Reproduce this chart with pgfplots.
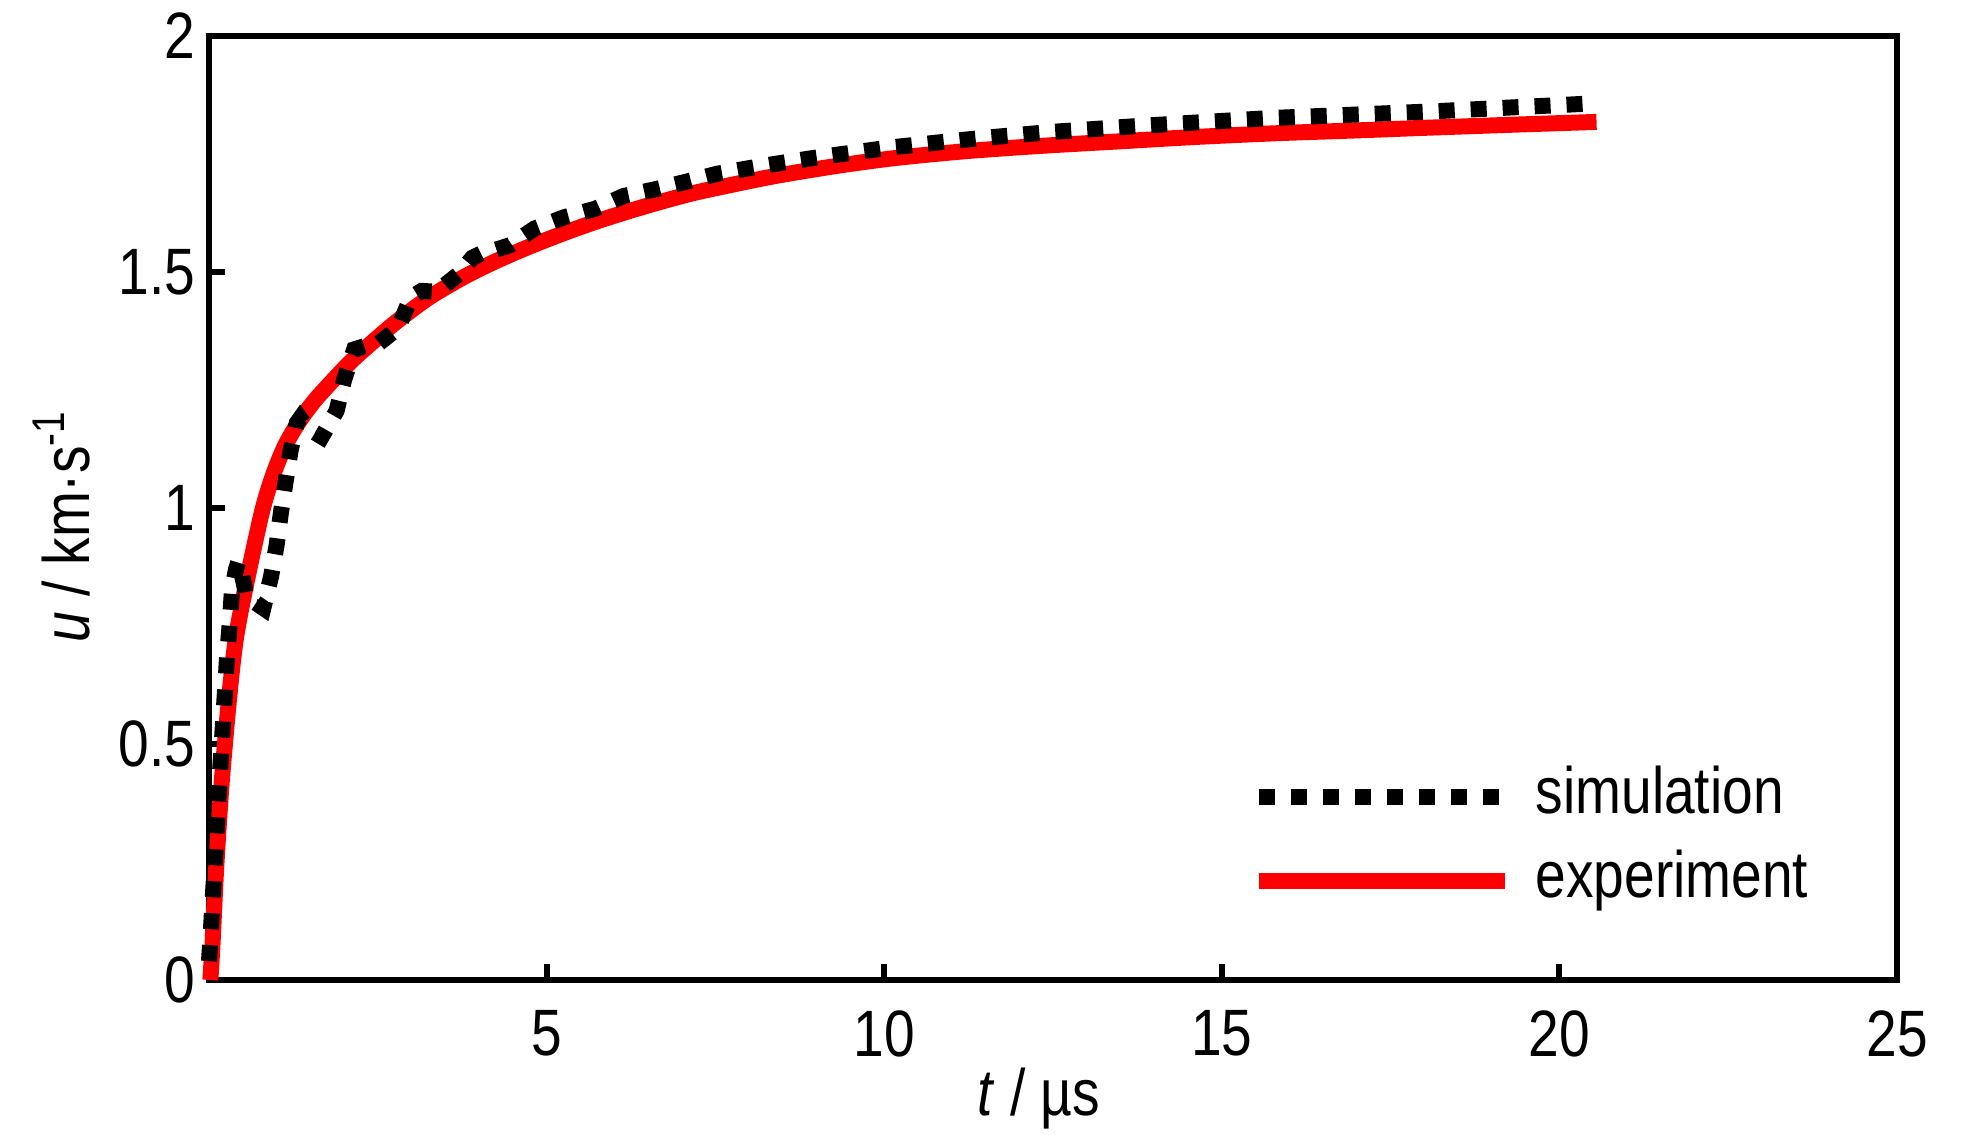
\documentclass[border=0pt]{standalone}
\usepackage{fontspec}
\setmainfont{Liberation Sans}[FakeStretch=0.84]
\usepackage{pgfplots}
\pgfplotsset{compat=1.18}
\usetikzlibrary{calc}
\newcommand{\lblfont}{\fontsize{16.4}{19.7}\selectfont}

\begin{document}
\begin{tikzpicture}
\begin{axis}[
  name=ax,
  width=422pt, height=236pt, scale only axis,
  xmin=0, xmax=25, ymin=0, ymax=2,
  xtick={5,10,15,20,25}, ytick={0,0.5,1,1.5,2},
  xtick pos=bottom, ytick pos=left,
  tick align=inside,
  major tick length=4.1pt,
  every tick/.style={line width=1.5pt, black},
  axis line style={line width=1.5pt},
  /pgf/number format/assume math mode=true,
  ticklabel style={font=\lblfont},
  xticklabel style={inner sep=0pt, yshift=-7.5pt, anchor=north},
  yticklabel style={inner sep=0pt, xshift=-3.2pt, anchor=east},
  clip=false,
  reverse legend,
  legend cell align=left,
  legend style={at={(rel axis cs:0.617,0.2288)}, anchor=north west,
    draw=none, fill=none, inner sep=0pt, outer sep=0pt,
    row sep=4.7pt, column sep=5.8pt, font=\lblfont,
    nodes={inner sep=0pt, text height=12.3pt, text depth=4pt}},
  legend image code/.code={\draw[#1] (0pt,0pt) -- (61.5pt,0pt);},
]
\addplot[color={rgb,255:red,255;green,0;blue,0}, line width=4pt, smooth] coordinates {
(0.02,0) (0.05,0.07) (0.10,0.22) (0.15,0.34) (0.20,0.44) (0.30,0.60)
(0.40,0.725) (0.567,0.85) (0.79,0.995) (0.95,1.07) (1.12,1.13) (1.32,1.18)
(1.55,1.225) (1.8,1.265) (2.1,1.31) (2.45,1.355) (2.78,1.395) (3.25,1.445)
(3.77,1.489) (4.25,1.523) (4.75,1.554) (5.25,1.582) (5.74,1.607) (6.2,1.628)
(6.7,1.649) (7.2,1.668) (7.72,1.684) (8.3,1.701) (8.91,1.716) (9.5,1.729)
(10.2,1.742) (11.21,1.756) (12.3,1.767) (13.51,1.777) (14.6,1.786)
(15.81,1.794) (17.0,1.800) (18.11,1.806) (19.3,1.812) (20.55,1.818)
};
\addlegendentry{experiment}
\addplot[black, line width=4pt, dash pattern=on 4pt off 4pt, line cap=butt] coordinates {
(0.00,0.04) (0.02,0.085) (0.15,0.41) (0.27,0.69) (0.31,0.76) (0.34,0.826)
(0.40,0.87) (0.434,0.886) (0.47,0.87) (0.558,0.812) (0.805,0.788)
(0.918,0.854) (1.0,0.92) (1.065,0.99) (1.135,1.056) (1.21,1.123)
(1.30,1.18) (1.35,1.19) (1.45,1.17) (1.67,1.151) (1.89,1.206)
(2.0,1.271) (2.15,1.336) (2.35,1.345) (2.48,1.345) (2.80,1.381)
(2.99,1.446) (3.15,1.46) (3.37,1.458) (3.71,1.497) (3.9,1.53)
(4.04,1.540) (4.2,1.545) (4.46,1.557) (4.82,1.592) (5.26,1.616)
(5.72,1.634) (6.14,1.661) (6.60,1.675) (7.06,1.691) (7.52,1.708)
(8.2,1.725) (8.97,1.742) (10.1,1.764) (11.38,1.783) (12.5,1.797)
(13.73,1.809) (15.70,1.826) (18.08,1.840) (20.47,1.857)
};
\addlegendentry{simulation}
\end{axis}
\node[anchor=base, font=\lblfont] at ($(ax.south west)!0.4916!(ax.south east) + (0,-33.75pt)$) {\textit{t} / µs};
\node[rotate=90, anchor=base, font=\lblfont] at ($(ax.south west)!0.481!(ax.north west) + (-29.75pt,0)$) {\textit{u} / km·s\textsuperscript{-1}};
\pgfresetboundingbox
\path[use as bounding box] ($(ax.south west)+(-52.25pt,-38.5pt)$) rectangle ($(ax.north east)+(21.75pt,9pt)$);
\end{tikzpicture}
\end{document}
